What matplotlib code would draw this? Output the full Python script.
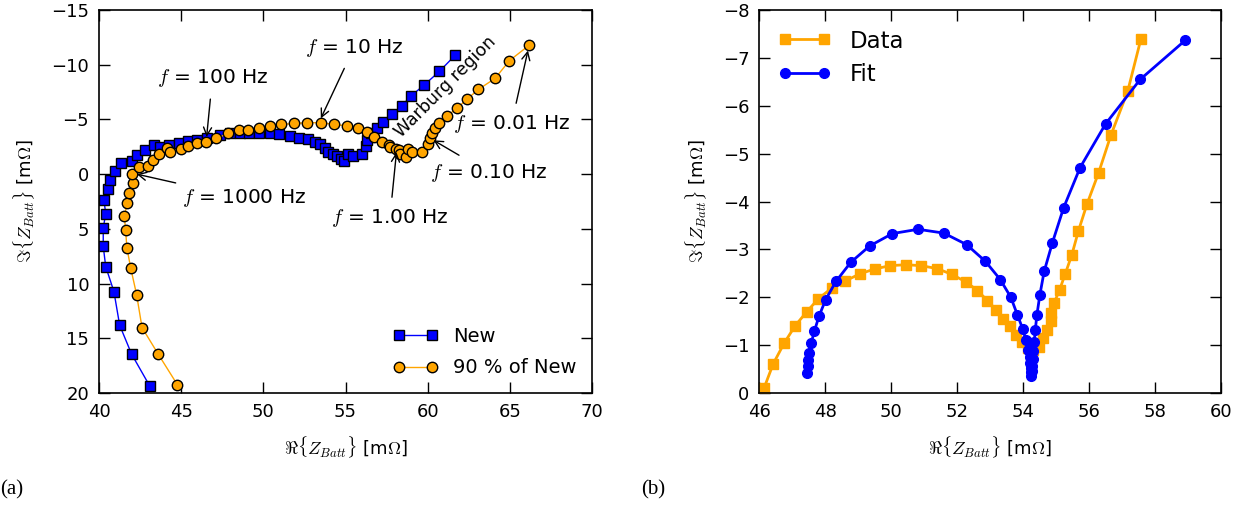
import matplotlib
matplotlib.use("Agg")
import matplotlib.pyplot as plt

plt.rcParams['font.family'] = ['DejaVu Sans']
plt.rcParams['mathtext.fontset'] = 'cm'
plt.rcParams['xtick.direction'] = 'in'
plt.rcParams['ytick.direction'] = 'in'

# (a) impedance spectra, new cell vs. 90 % of new
new_re = [43.10, 41.99, 41.26, 40.91, 40.41, 40.26, 40.26, 40.41, 40.30, 40.57,
          40.69, 40.97, 41.34, 41.99, 42.33, 42.82, 43.37, 43.71, 44.28, 44.89,
          45.44, 45.98, 46.55, 47.36, 47.97, 48.58, 49.15, 49.76, 50.41, 50.97,
          51.62, 52.19, 52.70, 53.14, 53.45, 53.75, 53.96, 54.22, 54.46, 54.71,
          54.91, 55.17, 55.48, 55.98, 56.25, 56.33, 56.55, 56.94, 57.30, 57.81,
          58.42, 58.97, 59.78, 60.71, 61.68]
new_im = [19.39, 16.46, 13.81, 10.73, 8.45, 6.59, 4.94, 3.60, 2.35, 1.37,
          0.55, -0.30, -1.04, -1.19, -1.74, -2.20, -2.65, -2.50, -2.71, -2.87,
          -2.99, -3.11, -3.29, -3.60, -3.72, -3.72, -3.72, -3.72, -3.72, -3.66,
          -3.51, -3.32, -3.17, -2.96, -2.74, -2.35, -2.04, -1.83, -1.65, -1.34,
          -1.22, -1.83, -1.68, -1.83, -2.56, -3.11, -3.72, -4.24, -4.79, -5.46,
          -6.22, -7.13, -8.14, -9.39, -10.88]

aged_re = [44.77, 43.61, 42.62, 42.29, 41.93, 41.70, 41.62, 41.54, 41.72, 41.85,
           42.09, 42.03, 42.43, 43.00, 43.31, 43.65, 44.12, 44.32, 44.97, 45.44,
           45.94, 46.51, 47.12, 47.87, 48.52, 49.09, 49.76, 50.41, 51.08, 51.87,
           52.64, 53.49, 54.32, 55.11, 55.78, 56.33, 56.76, 57.20, 57.67, 57.73,
           58.08, 58.24, 58.34, 58.65, 58.79, 59.05, 59.63, 60.00, 60.14, 60.24,
           60.45, 60.71, 61.16, 61.77, 62.38, 63.08, 64.10, 64.97, 66.19]
aged_im = [19.24, 16.46, 14.02, 11.01, 8.57, 6.74, 5.12, 3.84, 2.68, 1.71,
           0.79, 0.00, -0.67, -0.76, -1.28, -1.83, -2.35, -2.04, -2.26, -2.56,
           -2.87, -2.96, -3.26, -3.72, -4.02, -4.02, -4.18, -4.39, -4.54, -4.63,
           -4.70, -4.70, -4.54, -4.42, -4.18, -3.81, -3.41, -2.96, -2.65, -2.50,
           -2.29, -2.20, -1.83, -1.59, -2.29, -2.04, -2.04, -2.74, -3.26, -3.72,
           -4.24, -4.63, -5.30, -6.01, -6.83, -7.74, -8.75, -10.37, -11.80]

# frequency annotations: label, arrow tip, text position
freq_labels = [r'$f$ = 10 Hz', r'$f$ = 100 Hz', r'$f$ = 1000 Hz',
               r'$f$ = 1.00 Hz', r'$f$ = 0.10 Hz', r'$f$ = 0.01 Hz']
freq_tips = [(53.5, -5.1), (46.55, -3.4), (42.3, 0.0),
             (58.1, -2.0), (60.35, -3.1), (66.1, -11.3)]
freq_text = [(55.5, -11.5), (46.9, -8.75), (48.8, 2.2),
             (57.7, 4.0), (63.7, -0.15), (65.1, -4.6)]

# (b) measured data vs. model fit
data_re = [46.15, 46.43, 46.76, 47.10, 47.45, 47.80, 48.20, 48.61, 49.06, 49.50,
           49.97, 50.45, 50.91, 51.39, 51.84, 52.27, 52.62, 52.92, 53.18, 53.39,
           53.59, 53.78, 53.97, 54.15, 54.30, 54.47, 54.62, 54.72, 54.84, 54.84,
           54.94, 55.11, 55.28, 55.48, 55.68, 55.94, 56.29, 56.66, 57.17, 57.57]
data_im = [-0.10, -0.61, -1.04, -1.41, -1.70, -1.97, -2.19, -2.34, -2.49, -2.59,
           -2.66, -2.68, -2.66, -2.60, -2.48, -2.32, -2.14, -1.93, -1.74, -1.55,
           -1.39, -1.22, -1.06, -0.95, -0.90, -0.97, -1.15, -1.32, -1.50, -1.67,
           -1.88, -2.16, -2.49, -2.89, -3.39, -3.95, -4.60, -5.38, -6.30, -7.39]

fit_re = [47.45, 47.47, 47.49, 47.52, 47.58, 47.68, 47.82, 48.02, 48.33, 48.78,
          49.35, 50.04, 50.82, 51.60, 52.29, 52.86, 53.31, 53.63, 53.83, 53.99,
          54.09, 54.15, 54.20, 54.22, 54.24, 54.25, 54.25, 54.27, 54.28, 54.29,
          54.30, 54.34, 54.37, 54.42, 54.51, 54.64, 54.89, 55.23, 55.73, 56.50,
          57.55, 58.92]
fit_im = [-0.42, -0.56, -0.68, -0.83, -1.04, -1.30, -1.61, -1.95, -2.33, -2.73,
          -3.07, -3.33, -3.42, -3.34, -3.10, -2.75, -2.37, -2.00, -1.63, -1.34,
          -1.10, -0.90, -0.75, -0.63, -0.52, -0.43, -0.36, -0.45, -0.56, -0.70,
          -0.87, -1.06, -1.31, -1.63, -2.05, -2.54, -3.14, -3.87, -4.71, -5.62,
          -6.55, -7.37]

xlabel = r'$\Re\{Z_{Batt}\}$ [m$\Omega$]'
ylabel = r'$\Im\{Z_{Batt}\}$ [m$\Omega$]'

fig = plt.figure(figsize=(12.48, 5.14), dpi=100)
ax1 = fig.add_axes([0.0793, 0.2354, 0.3951, 0.7451])
ax2 = fig.add_axes([0.6082, 0.2354, 0.3702, 0.7451])

for ax in (ax1, ax2):
    ax.tick_params(which='both', top=True, right=True, labelsize=13,
                   length=8, width=1, pad=7)
    for s in ax.spines.values():
        s.set_linewidth(1.2)

# panel (a)
ax1.plot(new_re, new_im, color='blue', lw=1, marker='s', ms=7,
         mfc='blue', mec='black', mew=1, label='New')
ax1.plot(aged_re, aged_im, color='orange', lw=1, marker='o', ms=7.5,
         mfc='orange', mec='black', mew=1, label='90 % of New')
for lab, tip, txt in zip(freq_labels, freq_tips, freq_text):
    ax1.annotate(lab, xy=tip, xytext=txt, fontsize=14.5, ha='center', va='center',
                 arrowprops=dict(arrowstyle='->', color='black', lw=1,
                                 shrinkA=5, shrinkB=0))
ax1.text(61.05, -8.0, 'Warburg region', rotation=45, fontsize=12.5,
         ha='center', va='center')
ax1.set_xlim(40, 70)
ax1.set_ylim(20, -15)
ax1.set_xticks([40, 45, 50, 55, 60, 65, 70])
ax1.set_yticks([-15, -10, -5, 0, 5, 10, 15, 20])
ax1.set_xlabel(xlabel, fontsize=13, labelpad=10)
ax1.set_ylabel(ylabel, fontsize=13, labelpad=10)
ax1.legend(loc='lower right', frameon=False, fontsize=14, numpoints=2,
           handlelength=2.3, labelspacing=0.65, borderaxespad=0.4)

# panel (b)
ax2.plot(data_re, data_im, color='orange', lw=2, marker='s', ms=7,
         mfc='orange', mec='orange', label='Data')
ax2.plot(fit_re, fit_im, color='blue', lw=2, marker='o', ms=7,
         mfc='blue', mec='blue', label='Fit')
ax2.set_xlim(46, 60)
ax2.set_ylim(0, -8)
ax2.set_xticks(range(46, 61, 2))
ax2.set_yticks(range(-8, 1))
ax2.set_xlabel(xlabel, fontsize=13, labelpad=10)
ax2.set_ylabel(ylabel, fontsize=13, labelpad=10)
ax2.legend(loc='upper left', frameon=False, fontsize=16.5, numpoints=2,
           handlelength=2.3, labelspacing=0.45, borderaxespad=0.45)

fig.text(0.0, 0.037, '(a)', family='Liberation Serif', fontsize=15)
fig.text(0.514, 0.037, '(b)', family='Liberation Serif', fontsize=15)

fig.savefig('out.png', dpi=100)
